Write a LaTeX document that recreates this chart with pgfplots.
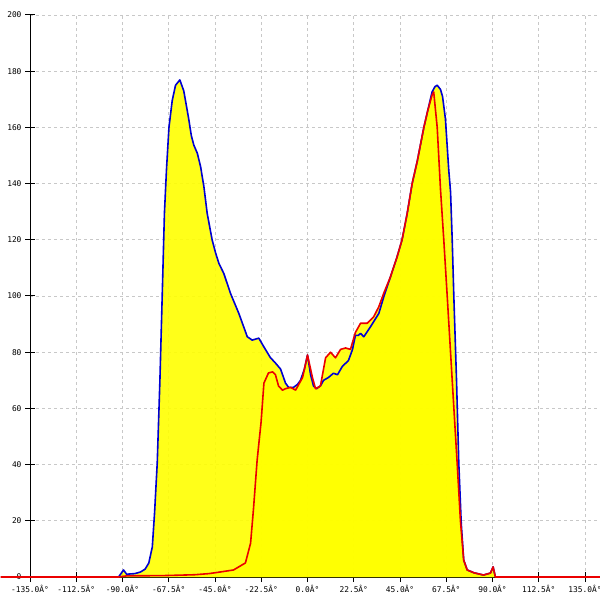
\documentclass[border=0pt]{standalone}
\usepackage{pgfplots}
\pgfplotsset{compat=1.18}
\usepackage{pgfplotstable}
\usepackage{fontspec}
\setmonofont{DejaVu Sans Mono}
\definecolor{lineblue}{RGB}{0,0,210}
\definecolor{linered}{RGB}{235,0,0}
\definecolor{fillyellow}{RGB}{255,255,0}
\definecolor{gridgray}{RGB}{200,200,200}

\pgfplotstableread{
x y
-95 0
-91.9 0
-89.5 2.5
-88.0 1
-84 1.2
-81.2 1.8
-79 2.8
-77.2 5
-75.5 10.7
-74.4 22.8
-73.1 40.6
-71.8 70
-70.7 99.6
-69.6 129.5
-68.6 145
-67.4 160
-65.8 169.6
-64.2 175
-62.1 176.9
-60.2 173
-58.5 166
-57.7 162.6
-56.5 157
-55.3 153.7
-53.6 150.8
-52.0 146
-50.4 138.9
-48.8 129.4
-46.4 120
-44.7 115.3
-43.1 111.6
-40.7 108
-37.5 101
-33.4 93.8
-29.3 85.5
-26.9 84.3
-23.7 85
-21.3 82
-18.0 78
-16.0 76.5
-13.1 74
-10.7 69
-9.2 67.5
-6.8 67.5
-4.9 68.5
-3.4 70
-1.5 74
0 79
1.5 72
2.9 68
4.4 67
6.3 68
7.8 70
10.2 71
12.6 72.5
14.6 72
17.0 75
19.9 77
21.9 81
23.3 86
24.8 86
25.8 86.7
27.4 85.5
30.6 89
34.7 93.8
37.1 99.7
40.4 106.9
43.6 114
46.0 120
48.5 129.4
50.9 140
53.4 148
56.6 160
58.5 166
60.6 172.6
62.0 174.5
63.1 175
64.7 173.5
65.7 171
67.1 163
68.7 145
69.6 137
70.4 120
71.2 99.6
72.5 70
73.6 40.6
74.8 19
76.0 6
77.7 2.5
81 1.5
85.6 0.7
89.0 1.4
90.3 3.6
91.4 0
}\bluedata

\pgfplotstableread{
x y
-149.3 0
-92 0
-88 0.4
-70 0.5
-55 0.8
-48 1.2
-42.3 1.8
-36.0 2.5
-30.2 5
-27.7 12
-26.3 24
-24.5 41.6
-22.6 55
-21.2 69
-19.0 72.6
-17.0 73
-15.6 72
-14.1 68
-12.2 66.5
-10.7 67
-8.3 67.5
-5.8 66.5
-2.4 71
0 79
2.4 71
3.9 67
6.3 68
8.8 78
11.2 80
13.6 78
16.1 81
18.5 81.5
20.9 81
23.3 87
25.8 90.3
29.0 90.3
32.2 92.6
34.7 96.2
37.1 101
40.4 106.9
43.6 114
46.0 120
48.5 129.4
50.9 140
53.4 148
56.6 160
58.5 166
60.6 171.5
61.4 172.6
63.1 160
64.7 138
66.3 120
68.0 99.6
70.4 70
72.8 40.6
74.4 20
76.0 6
77.7 2.5
81 1.5
85.6 0.7
89.0 1.4
90.3 3.6
91.4 0
142.3 0
}\reddata

\begin{document}
\begin{tikzpicture}
\path[use as bounding box, fill=white] (0,0) rectangle (600bp,600bp);
\begin{axis}[
  at={(30bp,23bp)}, anchor=south west,
  scale only axis, width=570bp, height=562bp,
  xmin=-135, xmax=142.3, ymin=0, ymax=200,
  clip=false,
  axis lines=left,
  axis line style={-, black, line width=1bp},
  tick align=center,
  major tick length=10bp,
  tick style={black, line width=1bp},
  xtick={-135,-112.5,-90,-67.5,-45,-22.5,0,22.5,45,67.5,90,112.5,135},
  xticklabels={-135.0Â°,-112.5Â°,-90.0Â°,-67.5Â°,-45.0Â°,-22.5Â°,0.0Â°,22.5Â°,45.0Â°,67.5Â°,90.0Â°,112.5Â°,135.0Â°},
  ytick={0,20,...,200},
  /pgf/number format/assume math mode=true,
  ticklabel style={font=\ttfamily\fontsize{7.9}{9}\selectfont},
  grid=major,
  major grid style={gridgray, line width=0.8bp, dash pattern=on 3bp off 3bp},
]
\addplot[draw=none, fill=fillyellow, fill opacity=0.9] table[x=x,y=y]{\bluedata} \closedcycle;
\addplot[draw=none, fill=fillyellow, fill opacity=0.9] table[x=x,y=y]{\reddata} \closedcycle;
\addplot[lineblue, line width=1.6bp, line join=round] table[x=x,y=y]{\bluedata};
\addplot[linered, line width=1.6bp, line join=round] table[x=x,y=y]{\reddata};
\end{axis}
\end{tikzpicture}
\end{document}
